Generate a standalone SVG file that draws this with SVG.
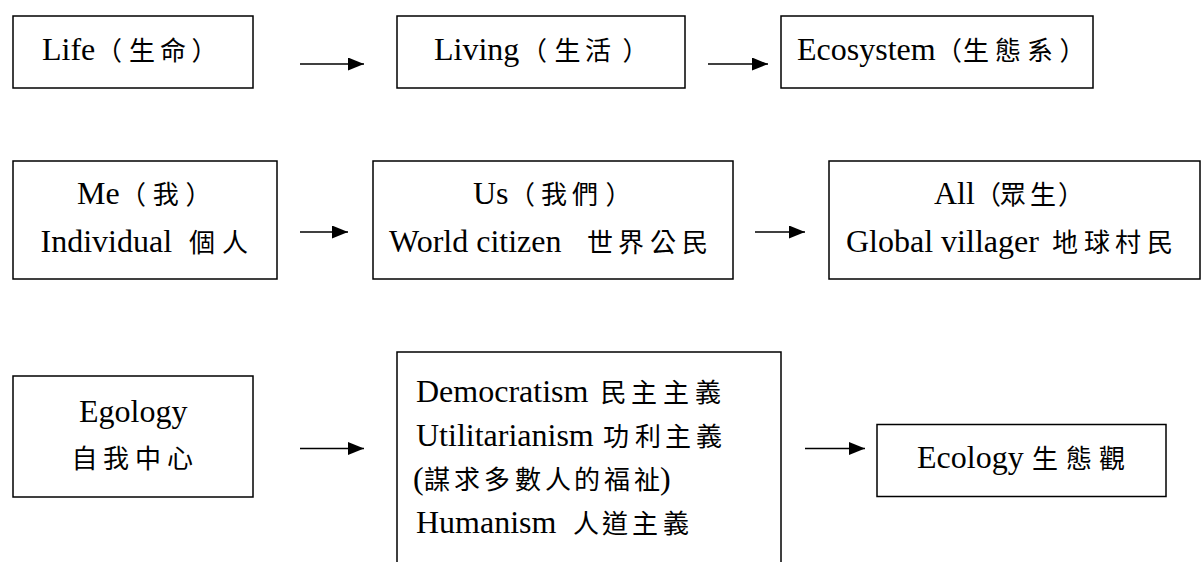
<svg xmlns="http://www.w3.org/2000/svg" width="1202" height="562" viewBox="0 0 1202 562">
<style>
.box{fill:#fff;stroke:#000;stroke-width:1.5}
.t{font-family:"Liberation Serif","Times New Roman",serif;font-size:32px;fill:#000}
.c{font-family:"Noto Sans CJK TC","Noto Sans CJK SC",sans-serif;font-size:26px;font-weight:400}
.ln{stroke:#000;stroke-width:1.3;fill:none;marker-end:url(#ah)}
</style>
<defs>
<marker id="ah" markerUnits="userSpaceOnUse" markerWidth="16" markerHeight="13" refX="16" refY="6.5" orient="auto">
<path d="M0,0 L16,6.5 L0,13 Z" fill="#000"/>
</marker>
</defs>
<rect width="1202" height="562" fill="#fff"/>
<g id="life">
<rect class="box" x="13" y="16" width="240" height="72"/>
<text class="t" x="42" y="60">Life<tspan class="c" x="96 129 160 191.5">（生命）</tspan></text>
</g>
<g id="living">
<rect class="box" x="397" y="16" width="288" height="72"/>
<text class="t" x="434" y="60">Living<tspan class="c" x="521 554.5 585 622.5">（生活）</tspan></text>
</g>
<g id="ecosystem">
<rect class="box" x="781" y="16" width="312" height="72"/>
<text class="t" x="797" y="60">Ecosystem<tspan class="c" x="936 963 995 1027 1059.5">（生態系）</tspan></text>
</g>
<g id="me">
<rect class="box" x="13" y="161" width="264" height="118"/>
<text class="t" x="77" y="204">Me<tspan class="c" x="120 152.8 185.5">（我）</tspan></text>
<text class="t" x="40.5" y="252">Individual<tspan class="c" x="189 222">個人</tspan></text>
</g>
<g id="us">
<rect class="box" x="373" y="161" width="360" height="118"/>
<text class="t" x="473" y="204">Us<tspan class="c" x="509 541 572 605.5">（我們）</tspan></text>
<text class="t" x="389" y="252">World citizen<tspan class="c" x="587 618 650 682">世界公民</tspan></text>
</g>
<g id="all">
<rect class="box" x="829" y="161" width="371" height="118"/>
<text class="t" x="934" y="204">All<tspan class="c" x="975 1000 1030 1058">（眾生）</tspan></text>
<text class="t" x="846" y="252">Global villager<tspan class="c" x="1052 1084 1115 1147">地球村民</tspan></text>
</g>
<g id="egology">
<rect class="box" x="13" y="376" width="240" height="121"/>
<text class="t" x="79" y="422">Egology</text>
<text class="c" x="71.5 103 135 167" y="468">自我中心</text>
</g>
<g id="isms">
<rect class="box" x="397" y="352" width="384" height="240"/>
<text class="t" x="416" y="402">Democratism<tspan class="c" x="600.6 631 663 695">民主主義</tspan></text>
<text class="t" x="416" y="445.5">Utilitarianism<tspan class="c" x="603 635 665 696">功利主義</tspan></text>
<text class="t" x="413" y="489">(<tspan class="c" x="424 454 484 515 545 574 604 634">謀求多數人的福祉</tspan><tspan x="660">)</tspan></text>
<text class="t" x="416" y="532.5">Humanism<tspan class="c" x="573 602 632 663">人道主義</tspan></text>
</g>
<g id="ecology">
<rect class="box" x="877" y="424.5" width="289" height="72"/>
<text class="t" x="917" y="468">Ecology<tspan class="c" x="1032 1066 1099">生態觀</tspan></text>
</g>
<g id="connectors">
<line class="ln" x1="300" y1="64" x2="364" y2="64"/>
<line class="ln" x1="708" y1="64" x2="768" y2="64"/>
<line class="ln" x1="300" y1="232" x2="348" y2="232"/>
<line class="ln" x1="755" y1="232" x2="805" y2="232"/>
<line class="ln" x1="300" y1="448.5" x2="364" y2="448.5"/>
<line class="ln" x1="805" y1="448.5" x2="865" y2="448.5"/>
</g>
</svg>
